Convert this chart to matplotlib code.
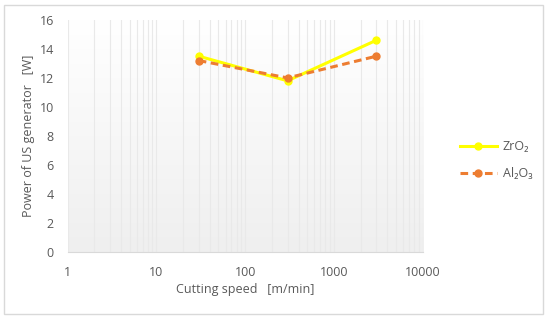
import numpy as np
import matplotlib.pyplot as plt
from matplotlib.patches import Rectangle
from matplotlib.ticker import LogLocator, FixedLocator
from matplotlib.colors import LinearSegmentedColormap

plt.rcParams['font.family'] = ['Open Sans', 'DejaVu Sans']

# data
speed = [30, 300, 3000]
zro2 = [13.5, 11.8, 14.6]
al2o3 = [13.2, 12.0, 13.5]
labels = ['ZrO\u2082', 'Al\u2082O\u2083']
xticks = [1, 10, 100, 1000, 10000]
yticks = [0, 2, 4, 6, 8, 10, 12, 14, 16]

W, H = 550, 322
fig = plt.figure(figsize=(5.5, 3.22), dpi=100)
ax = fig.add_axes([67.7 / W, 1 - 251.7 / H, (422.7 - 67.7) / W, (251.7 - 20) / H])

# outer chart border
fig.patches.append(Rectangle((4 / W, 1 - 314 / H), 539 / W, 309 / H,
                             transform=fig.transFigure, fill=False,
                             edgecolor='#d9d9d9', linewidth=1))

# gradient plot background
grad = np.linspace(1, 0, 256).reshape(-1, 1)
ax.imshow(grad, extent=[0, 1, 0, 1], transform=ax.transAxes, aspect='auto',
          cmap=LinearSegmentedColormap.from_list('g', ['#efefef', '#ffffff']),
          zorder=0)

ax.set_xscale('log')
ax.set_xlim(1, 10000)
ax.set_ylim(0, 16)

ax.xaxis.set_major_locator(FixedLocator(xticks))
ax.set_xticklabels([str(t) for t in xticks])
ax.xaxis.set_minor_locator(LogLocator(base=10, subs=np.arange(2, 10)))
ax.xaxis.set_minor_formatter(plt.NullFormatter())
ax.set_yticks(yticks)

ax.grid(True, which='both', axis='x', color='#e9e9e9', linewidth=0.8, zorder=1)
ax.set_axisbelow(True)

for s in ['top', 'right', 'left']:
    ax.spines[s].set_visible(False)
ax.spines['bottom'].set_color('#d9d9d9')

ax.tick_params(which='both', length=0, colors='#595959', labelsize=9)
ax.tick_params(axis='x', pad=10)
ax.tick_params(axis='y', pad=10)

ax.plot(speed, zro2, color='#ffff00', lw=2.2, marker='o', ms=5, label=labels[0], zorder=3)
ax.plot(speed, al2o3, color='#ed7d31', lw=2.2, ls=(0, (2.5, 1.5)), marker='o', ms=5,
        label=labels[1], zorder=4)

ax.set_xlabel('Cutting speed   [m/min]', color='#595959', fontsize=9, labelpad=3)
ax.set_ylabel('Power of US generator   [W]', color='#595959', fontsize=9, labelpad=3)

ax.legend(loc='center left', bbox_to_anchor=(449 / W, 1 - 160 / H), bbox_transform=fig.transFigure,
          frameon=False, fontsize=9, labelcolor='#595959', handlelength=2.9,
          labelspacing=1.1, handletextpad=0.5)

fig.savefig('out.png', dpi=100)
